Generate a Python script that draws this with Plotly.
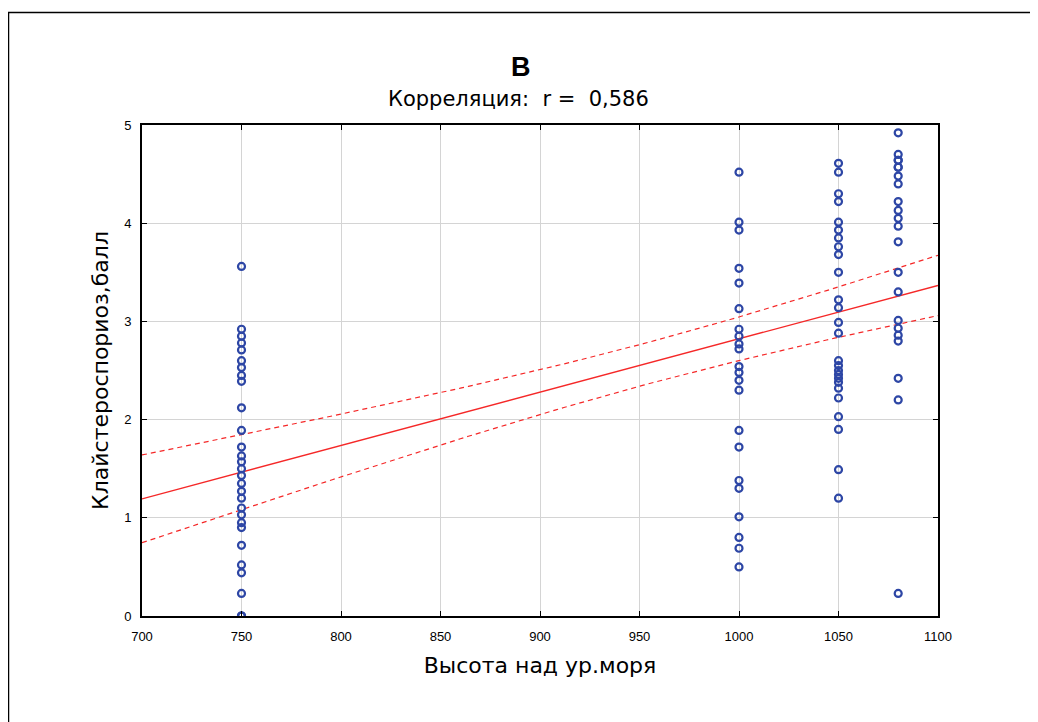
import numpy as np
import plotly.graph_objects as go

# Data (overlapping markers counted where they look heavier)
alt_750 = [3.56, 2.92, 2.85, 2.78, 2.71, 2.6, 2.53, 2.45, 2.39, 2.12, 1.89,
           1.72, 1.63, 1.57, 1.5, 1.43, 1.35, 1.27, 1.2, 1.1, 1.03, 0.95, 0.9,
           0.72, 0.52, 0.44, 0.23, 0.0, 0.0, 0.0]
alt_1000 = [4.52, 4.01, 3.93, 3.54, 3.39, 3.13, 2.92, 2.85, 2.77, 2.72,
            2.54, 2.48, 2.4, 2.3, 1.89, 1.72, 1.38, 1.3, 1.01, 0.8, 0.69, 0.5]
alt_1050 = [4.61, 4.52, 4.3, 4.22, 4.01, 3.93, 3.85, 3.76, 3.68, 3.5, 3.22,
            3.14, 2.99, 2.88, 2.6, 2.55, 2.5, 2.46, 2.42, 2.38, 2.32, 2.22,
            2.03, 1.9, 1.49, 1.2]
alt_1080 = [4.92, 4.7, 4.64, 4.64, 4.57, 4.57, 4.48, 4.4, 4.22, 4.13, 4.05,
            3.97, 3.81, 3.5, 3.3, 3.01, 2.93, 2.86, 2.8, 2.42, 2.2, 0.23]
altitudes = [750, 1000, 1050, 1080]
groups = [alt_750, alt_1000, alt_1050, alt_1080]

x_ticks = [700, 750, 800, 850, 900, 950, 1000, 1050, 1100]
y_ticks = [0, 1, 2, 3, 4, 5]

title_text = "<b>B</b>"
subtitle_text = "Корреляция:  r =  0,586"
x_title = "Высота над ур.моря"
y_title = "Клайстероспориоз,балл"

x = np.concatenate([[a] * len(g) for a, g in zip(altitudes, groups)]).astype(float)
y = np.concatenate(groups).astype(float)

# Linear regression with 95% confidence band for the mean
n = len(x)
b, a = np.polyfit(x, y, 1)
res = y - (a + b * x)
s = np.sqrt(np.sum(res ** 2) / (n - 2))
xm = x.mean()
sxx = np.sum((x - xm) ** 2)
xs = np.linspace(700, 1100, 101)
yf = a + b * xs
t = 1.984
half = t * s * np.sqrt(1.0 / n + (xs - xm) ** 2 / sxx)

blue = "rgb(45,70,165)"
red = "rgb(245,40,40)"

fig = go.Figure()
fig.add_trace(go.Scatter(x=xs, y=yf + half, mode="lines",
                         line=dict(color=red, width=1.2, dash="5px,4px"), hoverinfo="skip"))
fig.add_trace(go.Scatter(x=xs, y=yf - half, mode="lines",
                         line=dict(color=red, width=1.2, dash="5px,4px"), hoverinfo="skip"))
fig.add_trace(go.Scatter(x=xs, y=yf, mode="lines",
                         line=dict(color=red, width=1.4), hoverinfo="skip"))
fig.add_trace(go.Scatter(x=x, y=y, mode="markers",
                         marker=dict(symbol="circle-open", size=7, color=blue,
                                     line=dict(width=2.2, color=blue))))

tick_font = "Liberation Sans Narrow, Liberation Sans, Arial, sans-serif"
title_font = "DejaVu Sans, Liberation Sans, sans-serif"
axis_common = dict(showgrid=True, gridcolor="rgb(212,212,212)", gridwidth=1.2,
                   showline=True, linecolor="black", linewidth=1.6, mirror="ticks",
                   ticks="inside", ticklen=5, tickcolor="black", zeroline=False,
                   tickfont=dict(family=tick_font, size=13, color="black"))

W, H = 1030, 714
L, R, T, B = 134, 100, 117, 106
fig.update_layout(
    width=W, height=H,
    paper_bgcolor="white", plot_bgcolor="white",
    showlegend=False,
    margin=dict(l=L, r=R, t=T, b=B),
    xaxis=dict(range=[700, 1100], tickvals=x_ticks, ticktext=[str(v) for v in x_ticks],
               ticklabelstandoff=8,
               title=dict(text=x_title, font=dict(family=title_font, size=22, color="black"),
                          standoff=14),
               **axis_common),
    yaxis=dict(range=[0, 5], tickvals=y_ticks, ticktext=[str(v) for v in y_ticks],
               ticklabelstandoff=6,
               title=dict(text=y_title, font=dict(family=title_font, size=22, color="black"),
                          standoff=10),
               **axis_common),
)

pw = W - L - R
ph = H - T - B
# screen pixel -> paper coordinate (page has an 8px body margin)
def px_x(px):
    return (px - 8 - L) / pw
def px_y(py):
    return (H - B - (py - 8)) / ph

fig.add_annotation(text=title_text, x=px_x(521), y=px_y(67), xref="paper", yref="paper",
                   showarrow=False, xanchor="center", yanchor="middle",
                   font=dict(family="Liberation Sans, Arial, sans-serif", size=27, color="black"))
fig.add_annotation(text=subtitle_text, x=px_x(518), y=px_y(99), xref="paper", yref="paper",
                   showarrow=False, xanchor="center", yanchor="middle",
                   font=dict(family=title_font, size=21, color="black"))
fig.add_shape(type="rect", xref="paper", yref="paper",
              x0=px_x(8.5), y0=px_y(780), x1=px_x(1100), y1=px_y(12.5),
              line=dict(color="black", width=1.5))

fig.write_html("out.html")
